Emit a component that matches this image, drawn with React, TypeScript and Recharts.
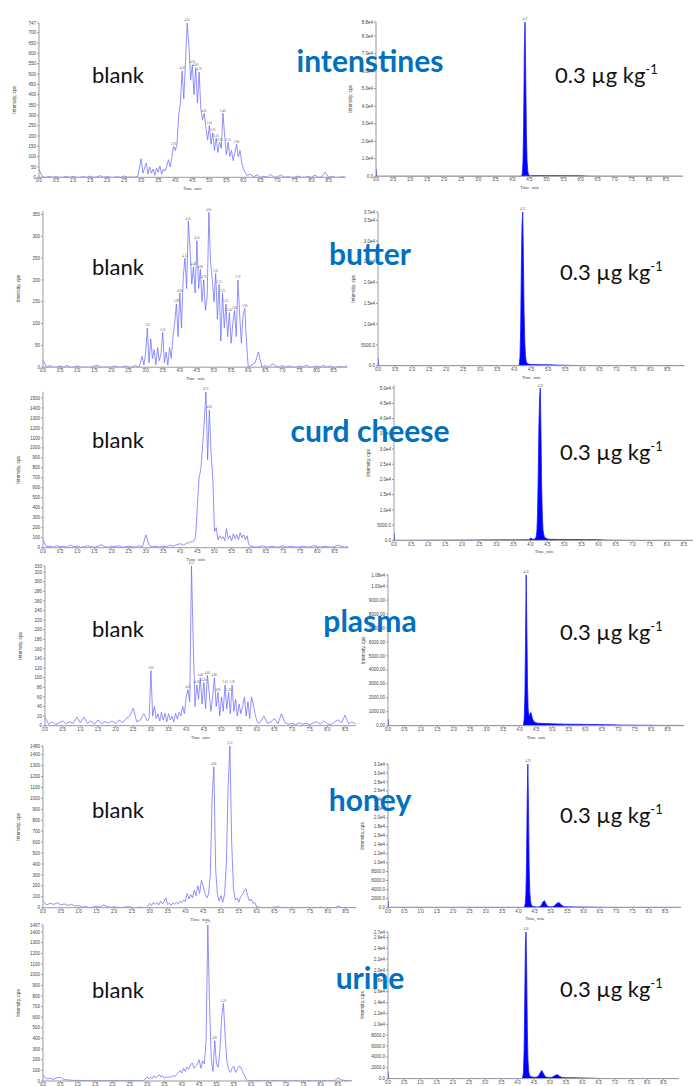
import React from "react";
import { LineChart, Line, AreaChart, Area, XAxis, YAxis, ReferenceDot } from "recharts";

// ─── Data ────────────────────────────────────────────────────────────────────
// each trace is stitched from segments: start time, sampling step, intensities

const timeTicks = [0, 0.5, 1, 1.5, 2, 2.5, 3, 3.5, 4, 4.5, 5, 5.5, 6, 6.5, 7, 7.5, 8, 8.5];

const sampleNames = ["intenstines", "butter", "curd cheese", "plasma", "honey", "urine"];

// intestines, blank
const intestinesBlankLead = [
  38, 2, 0, 4, 0, 3, 0, 0, 5, 0,
  4, 0, 0, 3, 0, 6, 0, 2, 8, 0,
  4, 0, 0, 3, 0, 7, 0, 2, 0, 5,
];
const intestinesBlankCore = [
  90, 20, 45, 70, 15, 50, 20, 40, 10, 45,
  25, 55, 15, 40, 30, 55, 85, 50, 95, 150,
  130, 160, 300, 360, 515, 380, 560, 747, 640, 470,
  545, 400, 530, 360, 510, 330, 280, 310, 240, 180,
  250, 160, 215, 130, 190, 120, 170, 140, 310, 200,
  110, 170, 100, 130, 80, 120, 160, 100, 130, 70,
  40,
];
const intestinesBlankTail = [
  10, 15, 3, 12, 0, 5, 0, 14, 0, 2,
  12, 0, 3, 0, 0, 6, 0, 0, 4, 0,
  10, 0, 2, 25, 0, 4, 0, 0, 3, 0,
];
const intestinesBlankTicks = [0, 50, 100, 150, 200, 250, 300, 350, 400, 450, 500, 550, 600, 650, 700, 747];

// butter, blank
const butterBlankLead = [
  17, 0, 4, 0, 0, 3, 0, 4, 0, 0,
  3, 0, 0, 0, 0, 3, 4, 0, 0, 0,
  0, 3, 0, 0, 3, 0, 0, 4, 0,
];
const butterBlankCore = [
  10, 25, 5, 30, 90, 10, 65, 20, 40, 5,
  45, 15, 30, 80, 10, 35, 5, 45, 20, 70,
  100, 145, 70, 170, 90, 205, 250, 180, 335, 270,
  190, 230, 170, 290, 180, 225, 150, 200, 130, 160,
  355, 240, 200, 150, 215, 110, 190, 60, 170, 90,
  145, 70, 125, 55, 100, 130, 70, 200, 120, 55,
  120, 135, 60, 0,
];
const butterBlankTail = [
  5, 10, 35, 0, 4, 0, 8, 3, 0, 4,
  0, 3, 0, 0, 3, 0, 5, 0, 0, 3,
  0, 4, 0, 3, 0, 0, 2, 0, 3,
];
const butterBlankTicks = [0, 50, 100, 150, 200, 250, 300, 350];

// curd cheese, blank
const curdBlankLead = [
  80, 10, 15, 5, 20, 10, 15, 5, 25, 10,
  15, 5, 10, 20, 10, 5, 15, 30, 10, 5,
  15, 10, 20, 5, 10, 15, 10, 5, 20, 10,
  130, 20, 10, 15, 5, 15, 10, 25, 15, 30,
  40, 25, 50,
];
const curdBlankCore = [
  45, 60, 55, 70, 110, 420, 700, 780, 1000, 1250,
  1560, 880, 1380, 950, 700, 160, 200, 80, 120, 90,
  110, 70, 190, 90, 120, 70, 140, 90, 130, 80,
  150, 100, 130, 80, 120, 30, 10,
];
const curdBlankTail = [
  15, 5, 10, 20, 5, 10, 15, 5, 10, 20,
  5, 15, 10, 5, 10, 15, 5, 10, 20, 10,
  5, 15, 10, 5, 10, 25, 15, 5, 10,
];
const curdBlankTicks = [0, 100, 200, 300, 400, 500, 600, 700, 800, 900, 1000, 1100, 1200, 1300, 1400, 1500];

// plasma, blank
const plasmaBlankLead = [
  18, 3, 8, 2, 6, 10, 4, 8, 5, 18,
  6, 18, 5, 10, 3, 12, 4, 8, 6, 10,
  4, 12, 6, 15, 20, 36, 8, 12, 25, 10,
];
const plasmaBlankCore = [
  15, 115, 20, 40, 15, 25, 10, 28, 12, 26,
  8, 25, 12, 20, 8, 26, 14, 28, 20, 40,
  25, 60, 75, 50, 333, 170, 40, 85, 55, 100,
  45, 90, 35, 105, 70, 30, 60, 100, 40, 70,
  20, 60, 30, 85, 35, 70, 25, 85, 30, 55,
  20, 45, 25, 40, 60, 20, 50, 15, 60, 45,
  25, 10, 5, 8,
];
const plasmaBlankTail = [
  20, 5, 8, 15, 4, 25, 6, 3, 5, 2,
  6, 3, 5, 2, 6, 8, 3, 10, 4, 2,
  8, 12, 6, 22, 4, 8, 3, 6,
];
const plasmaBlankTicks = [0, 20, 40, 60, 80, 100, 120, 140, 160, 180, 200, 220, 240, 260, 280, 300, 320, 333];

// honey, blank
const honeyBlankLead = [
  60, 25, 40, 30, 45, 25, 35, 20, 30, 15,
  20, 5, 10, 0, 5, 15, 5, 25, 10, 5,
  8, 3, 0, 5, 10, 3, 0, 5, 2, 0,
];
const honeyBlankCore = [
  40, 20, 50, 30, 45, 25, 60, 35, 55, 90,
  30, 40, 20, 45, 30, 50, 35, 60, 45, 70,
  60, 130, 80, 120, 90, 160, 110, 200, 130, 250,
  200, 130, 90, 120, 300, 1000, 1290, 350, 120, 60,
  110, 50, 120, 400, 1100, 1480, 600, 180, 70, 90,
  50, 100, 120, 150, 175, 110, 60, 80, 40, 45,
  10, 5,
];
const honeyBlankTail = [
  3, 0, 2, 0, 5, 8, 0, 3, 0, 5,
  0, 2, 0, 4, 0, 3, 0, 6, 0, 2,
  0, 3, 15, 0, 4, 0, 2, 0, 3,
];
const honeyBlankTicks = [0, 100, 200, 300, 400, 500, 600, 700, 800, 900, 1000, 1100, 1200, 1300, 1400, 1480];

// urine, blank
const urineBlankLead = [
  60, 20, 25, 15, 30, 35, 15, 10, 8, 5,
  6, 3, 5, 2, 4, 3, 5, 2, 4, 2,
  3, 5, 2, 4, 2, 3, 5, 2, 4, 3,
];
const urineBlankCore = [
  40, 20, 35, 25, 50, 30, 45, 60, 35, 50,
  25, 40, 30, 45, 35, 55, 40, 60, 80, 100,
  75, 120, 90, 130, 110, 150, 170, 120, 140, 160,
  200, 120, 190, 160, 380, 1467, 700, 200, 90, 380,
  160, 130, 300, 600, 730, 420, 180, 110, 80, 120,
  140, 80, 110, 140, 130, 90, 60, 20, 5, 3,
  2,
];
const urineBlankTail = [
  2, 4, 0, 3, 0, 2, 5, 0, 3, 0,
  2, 0, 4, 0, 2, 0, 3, 0, 2, 0,
  4, 0, 3, 0, 30, 10, 5, 2, 3,
];
const urineBlankTicks = [0, 100, 200, 300, 400, 500, 600, 700, 800, 900, 1000, 1100, 1200, 1300, 1400, 1467];

// spiked samples, 0.3 µg/kg
const intestinesSpikeLead = [4300, 0];
const intestinesSpikeCore = [0, 200, 1500, 8000, 30000, 70000, 88000, 60000, 25000, 9000, 3000, 1200, 600, 400, 300, 300];
const intestinesSpikeTail = [
  400, 400, 380, 400, 350, 380, 350, 300, 120, 50,
  0, 0, 0, 0, 0, 0, 0, 0, 0, 0,
  0, 0, 0,
];
const intestinesSpikeTicks = [0, 10000, 20000, 30000, 40000, 50000, 60000, 70000, 80000, 88000];

const butterSpikeLead = [1800, 0];
const butterSpikeCore = [0, 300, 2000, 9000, 24000, 34000, 37000, 26000, 13000, 6000, 2500, 1200, 700, 500, 400];
const butterSpikeTail = [300, 250, 200, 150, 100, 50, 0, 0, 0, 0, 0, 0, 0, 0, 0, 0, 0, 0, 0];
const butterSpikeTicks = [0, 5000, 10000, 15000, 20000, 25000, 30000, 35000, 37000];

const curdSpikeLead = [2400, 0];
const curdSpikeCore = [
  200, 400, 600, 700, 650, 500, 400, 350, 400, 500,
  700, 1200, 3000, 9000, 22000, 38000, 47000, 50000, 36000, 18000,
  8000, 3500, 2000, 1200, 900, 700, 600, 500, 450, 400,
  400,
];
const curdSpikeTail = [350, 300, 300, 280, 260, 250, 240, 200, 100, 50, 30, 20, 0, 0, 0, 0, 0, 0, 0, 0, 0, 0];
const curdSpikeTicks = [0, 5000, 10000, 15000, 20000, 25000, 30000, 35000, 40000, 45000, 50000];

const plasmaSpikeLead = [500, 0];
const plasmaSpikeCore = [0, 100, 500, 2000, 6000, 10800, 7000, 3000, 1200, 800, 700, 900, 950, 800, 600, 450, 350, 300, 250, 220, 200];
const plasmaSpikeTail = [180, 150, 130, 120, 110, 100, 100, 90, 90, 80, 70, 60, 50, 40, 40, 30, 30, 30, 20, 20, 20, 20, 20];
const plasmaSpikeTicks = [0, 1000, 2000, 3000, 4000, 5000, 6000, 7000, 8000, 9000, 10000, 10800];

const honeySpikeLead = [1500, 0];
const honeySpikeCore = [0, 200, 800, 3000, 10000, 24000, 32000, 22000, 9000, 3500, 1500, 700, 400, 300, 200];
const honeySpikeBumps = [150, 100, 100, 150, 400, 1200, 1500, 700, 250, 150, 120, 150, 300, 700, 1000, 1050, 700, 350, 200, 150, 120];
const honeySpikeTail = [100, 80, 50, 20, 0, 0, 0, 0, 0, 0, 0, 0, 0, 0];
const honeySpikeTicks = [0, 2000, 4000, 6000, 8000, 10000, 12000, 14000, 16000, 18000, 20000, 22000, 24000, 26000, 28000, 30000, 32000];

const urineSpikeLead = [1300, 0];
const urineSpikeCore = [0, 300, 1200, 5000, 14000, 24000, 27000, 20000, 9000, 3500, 1500, 800, 500, 400, 350];
const urineSpikeBumps = [300, 250, 250, 300, 500, 1100, 1500, 900, 400, 250, 200, 200, 250, 350, 550, 700, 650, 400, 250, 200, 180, 150];
const urineSpikeTail = [150, 120, 80, 30, 0, 0, 0, 0, 0, 0, 0, 0, 0, 0];
const urineSpikeTicks = [0, 2000, 4000, 6000, 8000, 10000, 12000, 14000, 16000, 18000, 20000, 22000, 24000, 26000, 27000];

// ─── Helpers ─────────────────────────────────────────────────────────────────

type Pt = { t: number; v: number };
type Seg = [number, number, number[]];

function build(segs: Seg[]): Pt[] {
  const out: Pt[] = [];
  for (const [start, step, values] of segs) {
    values.forEach((v, i) => out.push({ t: Math.round((start + i * step) * 1000) / 1000, v }));
  }
  return out.sort((a, b) => a.t - b.t);
}

// apex labels like the instrument software prints: local maxima above a share of the tallest peak
function apexes(data: Pt[], share: number): Pt[] {
  const top = Math.max(...data.map((d) => d.v));
  return data.filter((d, i) => {
    const prev = data[i - 1]?.v ?? -1;
    const next = data[i + 1]?.v ?? -1;
    return d.v > prev && d.v >= next && d.v >= top * share && d.t > 0.1;
  });
}

const fmt = (digits: number) => (v: number) =>
  v >= 10000 ? `${(v / 10000).toFixed(digits)}e4` : v.toFixed(digits);

const AXIS = "#9a9a9a";
const TICK = { fontSize: 4.5, fill: "#444", fontFamily: "'Liberation Sans', Arial, sans-serif" };
const Y_W = 30;
const X_H = 13;
const PAD_T = 6;

type PanelDef = {
  left: number; top: number; bottom: number; ppm: number; xMax: number;
  yMax: number; yTicks: number[]; digits: number; data: Pt[]; spike: boolean;
};

function Panel({ p }: { p: PanelDef }) {
  const width = Y_W + p.xMax * p.ppm;
  const height = p.bottom - p.top + X_H + PAD_T;
  const common = {
    width, height, data: p.data,
    margin: { top: PAD_T, right: 0, bottom: 0, left: 0 },
  };
  const marks = apexes(p.data, p.spike ? 0.9 : 0.2);
  const axes = [
    <XAxis
      key="x" type="number" dataKey="t" domain={[0, p.xMax]} ticks={timeTicks} interval={0}
      tickFormatter={(v: number) => v.toFixed(1)} tick={TICK} tickSize={2} tickMargin={0}
      stroke={AXIS} height={X_H} allowDataOverflow
      label={{ value: "Time, min", position: "insideBottom", offset: 0, fontSize: 4.5, fill: "#444" }}
    />,
    <YAxis
      key="y" type="number" domain={[0, p.yMax]} ticks={p.yTicks} interval={0}
      tickFormatter={fmt(p.digits)} tick={TICK} tickSize={2} tickMargin={1}
      stroke={AXIS} width={Y_W} allowDataOverflow
    />,
  ];
  const labels = marks.map((m, i) => (
    <ReferenceDot
      key={`m${i}`} x={m.t} y={m.v} r={0} ifOverflow="visible" stroke="none"
      label={{ value: m.t.toFixed(2), position: "top", offset: 1.5, fontSize: 3, fill: "#555" }}
    />
  ));
  return (
    <div style={{ position: "absolute", left: p.left - Y_W, top: p.top - PAD_T }}>
      {p.spike ? (
        <AreaChart {...common}>
          {axes}
          <Area type="linear" dataKey="v" stroke="#1a1aff" strokeWidth={0.8} fill="#0000ff" fillOpacity={1} dot={false} isAnimationActive={false} />
          {labels}
        </AreaChart>
      ) : (
        <LineChart {...common}>
          {axes}
          <Line type="linear" dataKey="v" stroke="#6b6bff" strokeWidth={0.75} dot={false} isAnimationActive={false} />
          {labels}
        </LineChart>
      )}
    </div>
  );
}

const panels: PanelDef[] = [
  { left: 39.3, top: 22.7, bottom: 177, ppm: 34.07, xMax: 9.0, yMax: 747, yTicks: intestinesBlankTicks, digits: 0, spike: false,
    data: build([[0, 0.1, intestinesBlankLead], [3.0, 0.05, intestinesBlankCore], [6.1, 0.1, intestinesBlankTail]]) },
  { left: 375.7, top: 21.7, bottom: 176, ppm: 34.1, xMax: 9.0, yMax: 88000, yTicks: intestinesSpikeTicks, digits: 1, spike: true,
    data: build([[0, 0.02, intestinesSpikeLead], [4.25, 0.02, intestinesSpikeCore], [4.6, 0.2, intestinesSpikeTail]]) },
  { left: 43.3, top: 210.5, bottom: 366.7, ppm: 34.2, xMax: 8.9, yMax: 358, yTicks: butterBlankTicks, digits: 0, spike: false,
    data: build([[0, 0.1, butterBlankLead], [2.85, 0.05, butterBlankCore], [6.1, 0.1, butterBlankTail]]) },
  { left: 378.3, top: 212, bottom: 365.7, ppm: 34.05, xMax: 9.0, yMax: 37000, yTicks: butterSpikeTicks, digits: 1, spike: true,
    data: build([[0, 0.02, butterSpikeLead], [4.13, 0.02, butterSpikeCore], [4.5, 0.25, butterSpikeTail]]) },
  { left: 43.3, top: 392, bottom: 547.7, ppm: 34.3, xMax: 8.9, yMax: 1560, yTicks: curdBlankTicks, digits: 0, spike: false,
    data: build([[0, 0.1, curdBlankLead], [4.25, 0.05, curdBlankCore], [6.1, 0.1, curdBlankTail]]) },
  { left: 394, top: 385.3, bottom: 540.7, ppm: 34.1, xMax: 8.8, yMax: 51000, yTicks: curdSpikeTicks, digits: 1, spike: true,
    data: build([[0, 0.02, curdSpikeLead], [3.95, 0.02, curdSpikeCore], [4.6, 0.2, curdSpikeTail]]) },
  { left: 45.3, top: 566, bottom: 725.7, ppm: 35.3, xMax: 8.8, yMax: 333, yTicks: plasmaBlankTicks, digits: 0, spike: false,
    data: build([[0, 0.1, plasmaBlankLead], [2.95, 0.05, plasmaBlankCore], [6.2, 0.1, plasmaBlankTail]]) },
  { left: 388.3, top: 575, bottom: 725.7, ppm: 32.9, xMax: 9.0, yMax: 10800, yTicks: plasmaSpikeTicks, digits: 2, spike: true,
    data: build([[0, 0.02, plasmaSpikeLead], [4.1, 0.02, plasmaSpikeCore], [4.6, 0.2, plasmaSpikeTail]]) },
  { left: 43.3, top: 746, bottom: 907.7, ppm: 35.6, xMax: 8.8, yMax: 1480, yTicks: honeyBlankTicks, digits: 0, spike: false,
    data: build([[0, 0.1, honeyBlankLead], [3.0, 0.05, honeyBlankCore], [6.1, 0.1, honeyBlankTail]]) },
  { left: 387.7, top: 764.3, bottom: 907.7, ppm: 32.6, xMax: 9.0, yMax: 32000, yTicks: honeySpikeTicks, digits: 1, spike: true,
    data: build([[0, 0.02, honeySpikeLead], [4.17, 0.02, honeySpikeCore], [4.5, 0.05, honeySpikeBumps], [5.75, 0.25, honeySpikeTail]]) },
  { left: 43.3, top: 925, bottom: 1081, ppm: 34.7, xMax: 8.9, yMax: 1467, yTicks: urineBlankTicks, digits: 0, spike: false,
    data: build([[0, 0.1, urineBlankLead], [3.0, 0.05, urineBlankCore], [6.1, 0.1, urineBlankTail]]) },
  { left: 387.7, top: 931.7, bottom: 1078.3, ppm: 32.4, xMax: 9.0, yMax: 27000, yTicks: urineSpikeTicks, digits: 1, spike: true,
    data: build([[0, 0.02, urineSpikeLead], [4.14, 0.02, urineSpikeCore], [4.45, 0.05, urineSpikeBumps], [5.75, 0.25, urineSpikeTail]]) },
];

// text rows: title baseline, "blank" baseline, concentration baseline & x
const rows = [
  { title: 72, blank: 83, conc: 83, concX: 555 },
  { title: 265, blank: 275, conc: 280, concX: 560 },
  { title: 442, blank: 448, conc: 460, concX: 560 },
  { title: 632, blank: 637, conc: 640, concX: 560 },
  { title: 811, blank: 818, conc: 823, concX: 560 },
  { title: 989, blank: 998, conc: 997, concX: 560 },
];

const FONT = "Lato, 'Open Sans', sans-serif";

export default function App() {
  return (
    <div style={{ position: "absolute", left: 0, top: 0, width: 693, height: 1086, background: "#fff", overflow: "hidden" }}>
      {panels.map((p, i) => <Panel key={i} p={p} />)}
      <svg width={693} height={1086} style={{ position: "absolute", left: 0, top: 0, pointerEvents: "none" }}>
        {panels.map((p, i) => {
          const cx = p.left - 25;
          const cy = (p.top + p.bottom) / 2;
          return (
            <text key={`yl${i}`} x={cx} y={cy} transform={`rotate(-90 ${cx} ${cy})`} textAnchor="middle"
              dominantBaseline="middle" fontSize={4.8} fill="#444" fontFamily="'Liberation Sans', Arial, sans-serif">
              Intensity, cps
            </text>
          );
        })}
        {rows.map((r, i) => (
          <g key={`r${i}`} fontFamily={FONT}>
            <text x={370} y={r.title} textAnchor="middle" fontSize={30} fontWeight={700} fill="#0070c0">{sampleNames[i]}</text>
            <text x={92} y={r.blank} fontSize={22} fill="#111">blank</text>
            <text x={r.concX} y={r.conc} fontSize={22} fill="#111">
              0.3 µg kg<tspan dy={-9} fontSize={13}>-1</tspan>
            </text>
          </g>
        ))}
      </svg>
    </div>
  );
}
